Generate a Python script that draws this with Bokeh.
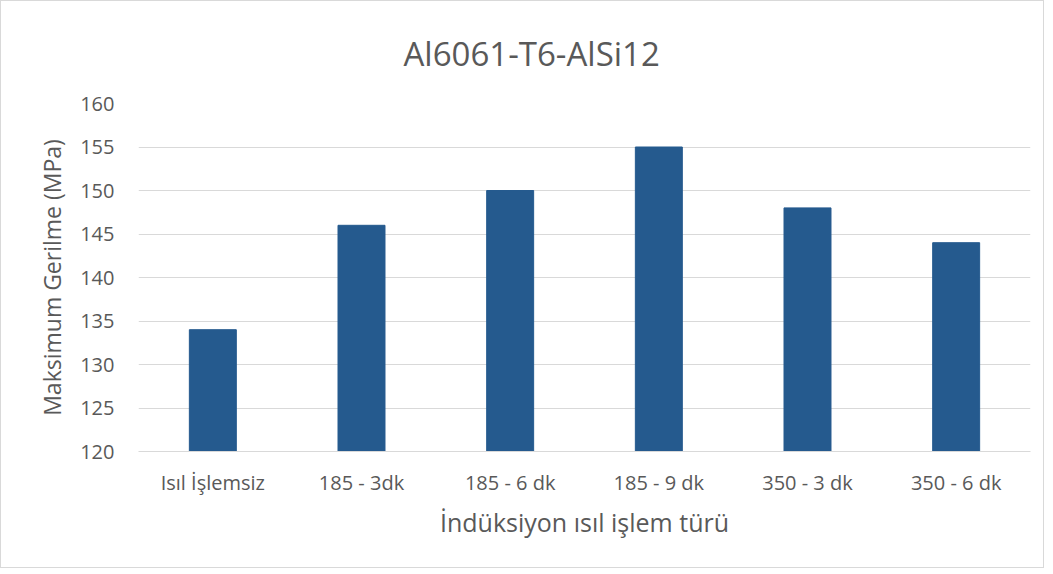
from bokeh.plotting import figure
from bokeh.embed import file_html
from bokeh.resources import INLINE
from bokeh.models import Range1d, FixedTicker, ColumnDataSource

categories = ["Isıl İşlemsiz", "185 - 3dk", "185 - 6 dk", "185 - 9 dk", "350 - 3 dk", "350 - 6 dk"]
values = [134, 146, 150, 155, 148, 144]
y_ticks = [120, 125, 130, 135, 140, 145, 150, 155, 160]
title_text = "Al6061-T6-AlSi12"

FONT = "Open Sans"
TXT = "#595959"

src = ColumnDataSource(dict(cat=categories, val=values))

p = figure(x_range=categories, y_range=Range1d(120, 160),
           width=1044, height=568, output_backend="svg", toolbar_location=None,
           min_border_left=137, min_border_right=15, min_border_top=100, min_border_bottom=118)

p.vbar(x="cat", top="val", bottom=120, width=0.316, source=src,
       fill_color="#255A8E", line_color="#255A8E")

p.title.text = title_text
p.title.align = "left"
p.title.offset = 265
p.title.text_font = FONT
p.title.text_font_style = "normal"
p.title.text_font_size = "33px"
p.title.text_color = TXT
p.title.standoff = 55

p.outline_line_color = None
p.border_fill_color = "white"
p.background_fill_color = "white"

p.xgrid.grid_line_color = None
p.ygrid.grid_line_color = "#d9d9d9"
p.ygrid.grid_line_width = 1

p.yaxis.ticker = FixedTicker(ticks=y_ticks)
p.yaxis.axis_line_color = None
p.yaxis.major_tick_line_color = None
p.yaxis.minor_tick_line_color = None
p.yaxis.major_label_text_font = FONT
p.yaxis.major_label_text_font_size = "20px"
p.yaxis.major_label_text_color = TXT
p.yaxis.major_label_standoff = 18
p.yaxis.axis_label = "Maksimum Gerilme (MPa)"
p.yaxis.axis_label_text_font = FONT
p.yaxis.axis_label_text_font_style = "normal"
p.yaxis.axis_label_text_font_size = "23px"
p.yaxis.axis_label_text_color = TXT
p.yaxis.axis_label_standoff = 9

p.xaxis.axis_line_color = "#d9d9d9"
p.xaxis.major_tick_line_color = None
p.xaxis.minor_tick_line_color = None
p.xaxis.major_label_text_font = FONT
p.xaxis.major_label_text_font_size = "20px"
p.xaxis.major_label_text_color = TXT
p.xaxis.major_label_standoff = 11
p.xaxis.axis_label = "İndüksiyon ısıl işlem türü"
p.xaxis.axis_label_text_font = FONT
p.xaxis.axis_label_text_font_style = "normal"
p.xaxis.axis_label_text_font_size = "25px"
p.xaxis.axis_label_text_color = TXT
p.xaxis.axis_label_standoff = 6

p.styles = {"border": "1px solid #d9d9d9"}

open("out.html", "w").write(file_html(p, INLINE))
